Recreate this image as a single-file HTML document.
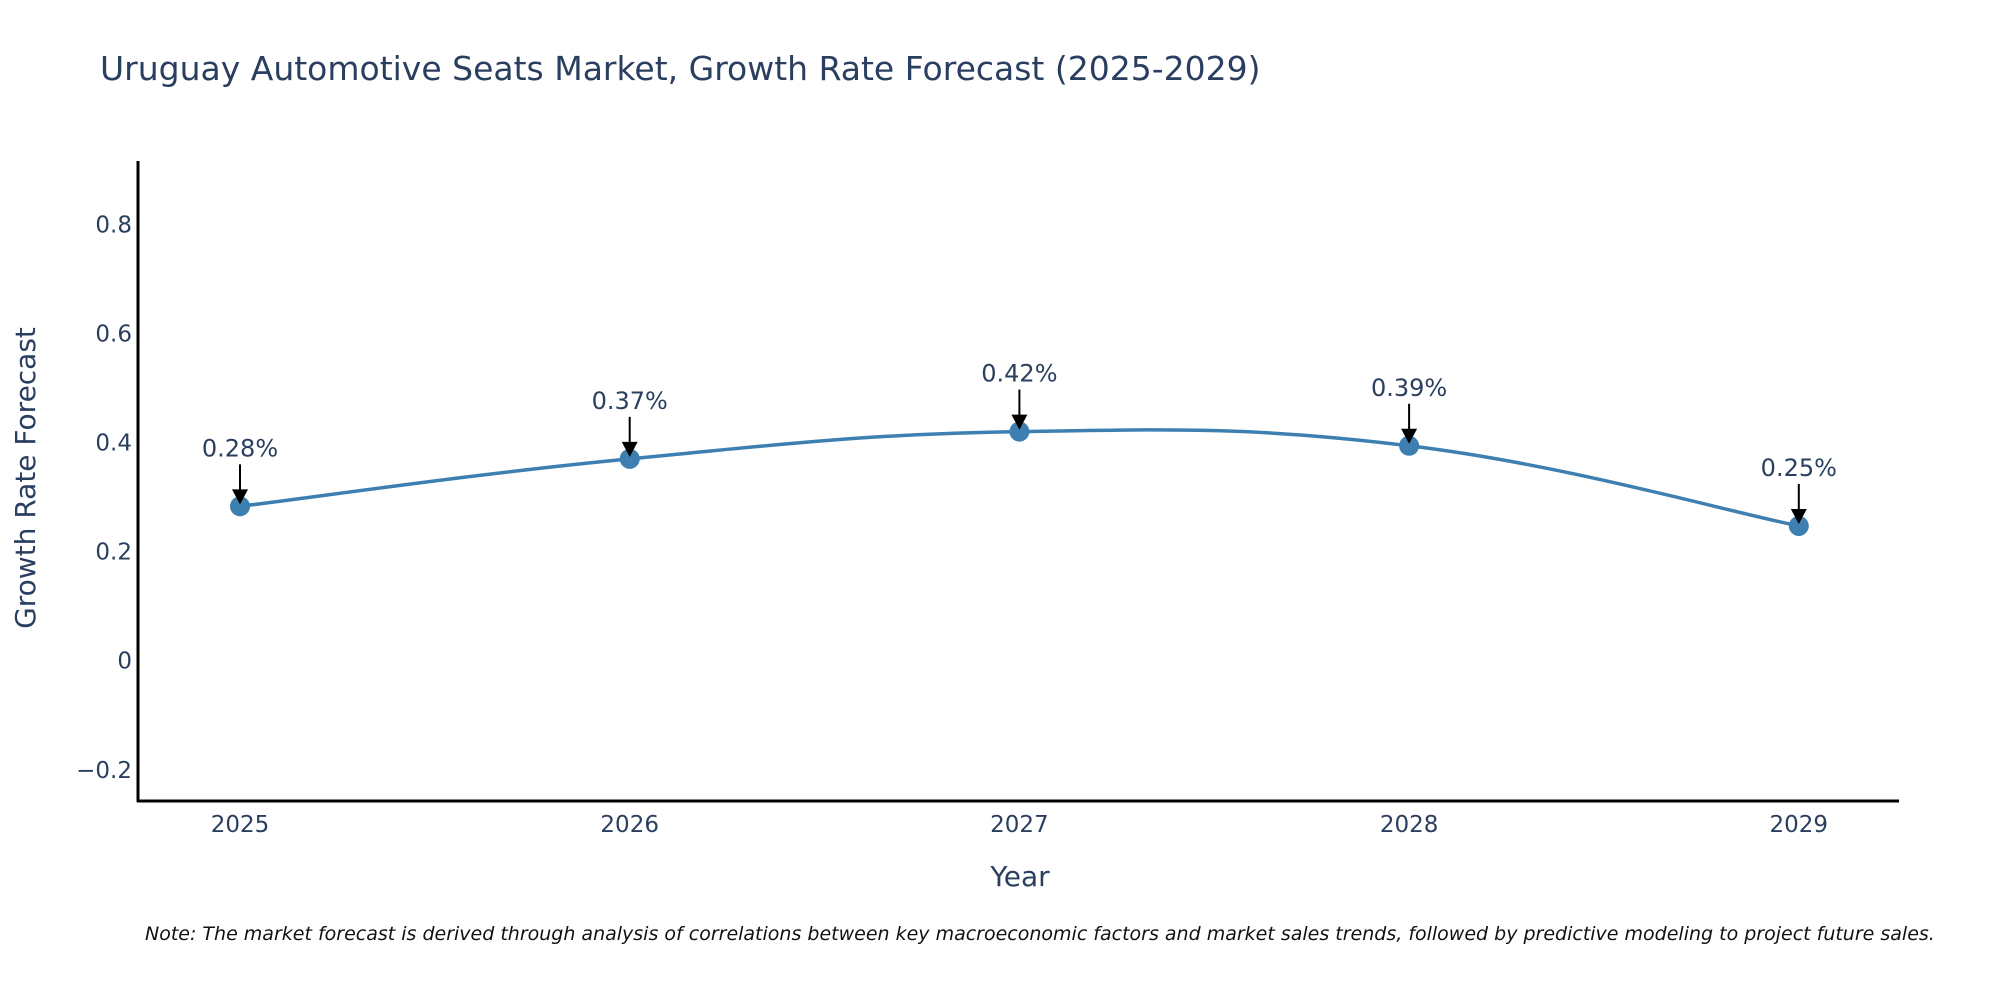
<!DOCTYPE html>
<html><head><meta charset="utf-8"><style>
html,body{margin:0;padding:0;background:#fff;width:2000px;height:1000px;overflow:hidden}
svg{display:block;font-family:"DejaVu Sans","Liberation Sans",sans-serif}
</style></head><body>
<svg id="chart" width="2000" height="1000" viewBox="0 0 2000 1000">
<text x="100" y="80" font-size="33" fill="#2a3f5f">Uruguay Automotive Seats Market, Growth Rate Forecast (2025-2029)</text>
<g id="yticks"></g>
<g id="xticks"></g>
<line x1="138" y1="161" x2="138" y2="802" stroke="#000" stroke-width="3"/>
<line x1="137" y1="801" x2="1899" y2="801" stroke="#000" stroke-width="3"/>
<path id="line" fill="none" stroke="#3d7fb0" stroke-width="3.5"/>
<g id="points"></g>
<g id="annots"></g>
<text x="0" y="0" transform="translate(35,478) rotate(-90)" text-anchor="middle" font-size="28" fill="#2a3f5f">Growth Rate Forecast</text>
<text x="1020" y="886" text-anchor="middle" font-size="28" fill="#2a3f5f">Year</text>
<text x="145" y="940" font-size="19" font-style="italic" fill="#111">Note: The market forecast is derived through analysis of correlations between key macroeconomic factors and market sales trends, followed by predictive modeling to project future sales.</text>
</svg>
<script>
const years = [2025, 2026, 2027, 2028, 2029];
const values = [0.283, 0.37, 0.42, 0.394, 0.247];
const labels = ["0.28%", "0.37%", "0.42%", "0.39%", "0.25%"];
const yTickValues = [-0.2, 0, 0.2, 0.4, 0.6, 0.8];
const yTickLabels = ["\u22120.2", "0", "0.2", "0.4", "0.6", "0.8"];

const NS = "http://www.w3.org/2000/svg";
function xs(yr){ return 240 + (yr - 2025) * 389.7; }
function ys(v){ return 660.7 - v * 545.5; }
function mk(tag, attrs, parent){ const e=document.createElementNS(NS,tag); for(const k in attrs) e.setAttribute(k,attrs[k]); parent.appendChild(e); return e; }

const yt = document.getElementById('yticks');
yTickValues.forEach((v,i)=>{
  const t = mk('text',{x:132,y:ys(v)+8,'text-anchor':'end','font-size':23,fill:'#2a3f5f'},yt);
  t.textContent = yTickLabels[i];
  
  
});
const xt = document.getElementById('xticks');
years.forEach(y=>{
  const t = mk('text',{x:xs(y),y:832,'text-anchor':'middle','font-size':23,fill:'#2a3f5f'},xt);
  t.textContent = String(y);
  
  
});

const P = years.map((y,i)=>[xs(y), ys(values[i])]);
let d = `M${P[0][0]},${P[0][1]}`;
const k = 0.2;
for(let i=0;i<P.length-1;i++){
  const p0=P[Math.max(i-1,0)], p1=P[i], p2=P[i+1], p3=P[Math.min(i+2,P.length-1)];
  const c1=[p1[0]+(p2[0]-p0[0])*k, p1[1]+(p2[1]-p0[1])*k];
  const c2=[p2[0]-(p3[0]-p1[0])*k, p2[1]-(p3[1]-p1[1])*k];
  d += ` C${c1[0]},${c1[1]} ${c2[0]},${c2[1]} ${p2[0]},${p2[1]}`;
}
document.getElementById('line').setAttribute('d', d);

const pts = document.getElementById('points');
const an = document.getElementById('annots');
P.forEach((p,i)=>{
  const c = mk('circle',{cx:p[0],cy:p[1],r:10,fill:'#3d7fb0'},pts);
  
  
  const ln = mk('line',{x1:p[0],y1:p[1]-42,x2:p[0],y2:p[1]-14,stroke:'#000','stroke-width':2},an);
  
  
  const hd = mk('polygon',{points:`${p[0]-8},${p[1]-17} ${p[0]+8},${p[1]-17} ${p[0]},${p[1]-2}`,fill:'#000'},an);
  
  
  const t = mk('text',{x:p[0],y:p[1]-50,'text-anchor':'middle','font-size':24,fill:'#2a3f5f'},an);
  t.textContent = labels[i];
  
  
});
</script>
</body></html>
